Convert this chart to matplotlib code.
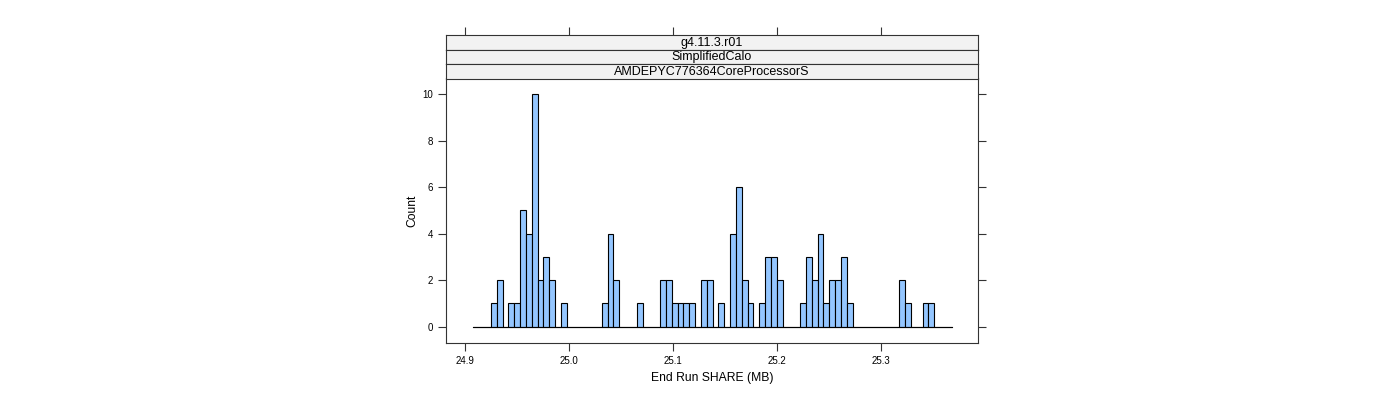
import numpy as np
from matplotlib import pyplot as plt

plt.rcParams['font.family'] = ['Liberation Sans', 'DejaVu Sans']

# histogram bins
bin_lo = 24.908
bin_hi = 25.368
counts = [0, 0, 0, 1, 2, 0, 1, 1, 5, 4, 10, 2, 3, 2, 0, 1, 0, 0, 0, 0,
          0, 0, 1, 4, 2, 0, 0, 0, 1, 0, 0, 0, 2, 2, 1, 1, 1, 1, 0, 2,
          2, 0, 1, 0, 4, 6, 2, 1, 0, 1, 3, 3, 2, 0, 0, 0, 1, 3, 2, 4,
          1, 2, 2, 3, 1, 0, 0, 0, 0, 0, 0, 0, 0, 2, 1, 0, 0, 1, 1, 0,
          0, 0]
strip_labels = ['g4.11.3.r01', 'SimplifiedCalo', 'AMDEPYC776364CoreProcessorS']
x_ticks = [24.9, 25.0, 25.1, 25.2, 25.3]
y_ticks = [0, 2, 4, 6, 8, 10]

edges = np.linspace(bin_lo, bin_hi, len(counts) + 1)
width = edges[1] - edges[0]

fig = plt.figure(figsize=(14, 4), dpi=100)
ax = fig.add_axes([446 / 1400, 1 - 343 / 400, 532 / 1400, 265 / 400])
ax.bar(edges[:-1], counts, width=width, align='edge',
       color='#94C6FF', edgecolor='black', linewidth=0.8)
ax.plot([bin_lo, bin_hi], [0, 0], color='black', linewidth=0.8)
ax.set_xlim(24.8817, 25.3933)
ax.set_ylim(-0.7, 10.7)
ax.set_xticks(x_ticks)
ax.set_xticklabels(['%.1f' % t for t in x_ticks])
ax.set_yticks(y_ticks)
ax.tick_params(axis='both', labelsize=7, length=6, width=0.8, color='#333333')
ax.tick_params(axis='y', right=True, labelright=False)
ax.set_xlabel('End Run SHARE (MB)', fontsize=8.7, labelpad=4)
ax.set_ylabel('Count', fontsize=8.7, labelpad=3)
for sp in ax.spines.values():
    sp.set_color('#333333')
    sp.set_linewidth(0.8)

# strips above the panel
strip_h = 14.5
for i, lab in enumerate(strip_labels):
    top = 35 + i * strip_h
    sax = fig.add_axes([446 / 1400, 1 - (top + strip_h) / 400, 532 / 1400, strip_h / 400])
    sax.set_facecolor('#f2f2f2')
    sax.set_xlim(ax.get_xlim())
    sax.set_yticks([])
    if i == 0:
        sax.set_xticks(x_ticks)
        sax.tick_params(axis='x', top=True, bottom=False, labeltop=False,
                        labelbottom=False, length=6, width=0.8, color='#333333')
    else:
        sax.set_xticks([])
    for sp in sax.spines.values():
        sp.set_color('#333333')
        sp.set_linewidth(0.8)
    sax.text(0.5, 0.45, lab, transform=sax.transAxes, ha='center', va='center', fontsize=9)

fig.savefig('out.png', dpi=100)
